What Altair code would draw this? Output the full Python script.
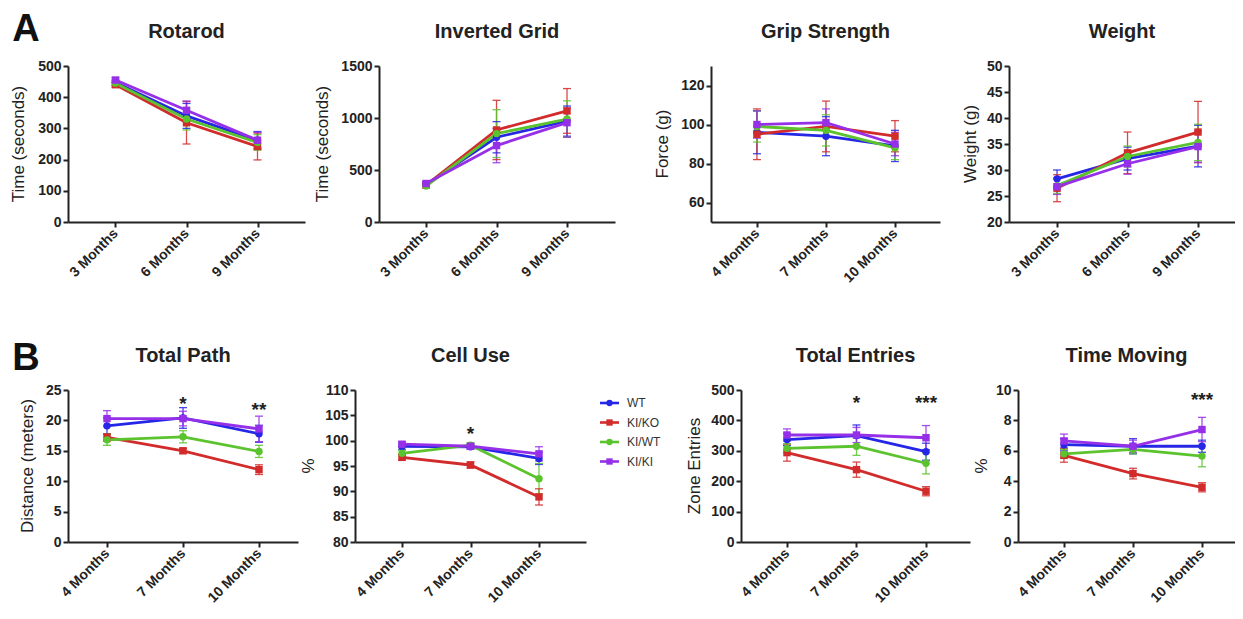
import altair as alt
import pandas as pd

FONT = "Liberation Sans"
INK = "#222222"

GROUPS = ["WT", "KI/KO", "KI/WT", "KI/KI"]
COLORS = ["#2626e6", "#d22b2b", "#5bc32d", "#9630e8"]
SHAPES = ["circle", "square", "circle", "square"]

MONTHS_369 = ["3 Months", "6 Months", "9 Months"]
MONTHS_4710 = ["4 Months", "7 Months", "10 Months"]

# ---- Panel A ----
ROTAROD_MEAN = {"WT": [447, 340, 262], "KI/KO": [440, 318, 242],
                "KI/WT": [445, 330, 255], "KI/KI": [455, 358, 262]}
ROTAROD_ERR = {"WT": [8, 40, 28], "KI/KO": [8, 68, 43],
               "KI/WT": [8, 35, 25], "KI/KI": [8, 30, 25]}

GRID_MEAN = {"WT": [360, 815, 970], "KI/KO": [355, 885, 1068],
             "KI/WT": [345, 850, 990], "KI/KI": [370, 735, 955]}
GRID_ERR = {"WT": [15, 150, 145], "KI/KO": [15, 285, 215],
            "KI/WT": [15, 230, 175], "KI/KI": [15, 165, 140]}

GRIP_MEAN = {"WT": [96, 94, 89], "KI/KO": [95, 99, 94],
             "KI/WT": [99, 97, 88], "KI/KI": [100, 101, 90]}
GRIP_ERR = {"WT": [11, 10, 8], "KI/KO": [13, 13, 8],
            "KI/WT": [8, 8, 6], "KI/KI": [7, 7, 6]}

WEIGHT_MEAN = {"WT": [28.3, 32.2, 34.6], "KI/KO": [26.5, 33.3, 37.3],
               "KI/WT": [27.0, 32.6, 35.3], "KI/KI": [26.8, 31.2, 34.5]}
WEIGHT_ERR = {"WT": [1.7, 2.2, 4.0], "KI/KO": [2.6, 4.0, 5.9],
              "KI/WT": [1.5, 2.0, 3.5], "KI/KI": [1.5, 2.0, 3.0]}

# ---- Panel B ----
PATH_MEAN = {"WT": [19.1, 20.4, 17.8], "KI/KO": [17.2, 15.0, 11.9],
             "KI/WT": [16.8, 17.3, 14.9], "KI/KI": [20.3, 20.3, 18.6]}
PATH_ERR = {"WT": [1.3, 1.7, 1.4], "KI/KO": [0.6, 0.4, 0.8],
            "KI/WT": [0.9, 1.0, 1.0], "KI/KI": [1.3, 1.2, 2.1]}
PATH_STAR_MONTH = ["7 Months", "10 Months"]
PATH_STAR_TEXT = ["*", "**"]
PATH_STAR_Y = [23.6, 22.5]

CELL_MEAN = {"WT": [98.9, 98.8, 96.5], "KI/KO": [96.7, 95.2, 88.9],
             "KI/WT": [97.5, 99.1, 92.5], "KI/KI": [99.3, 98.9, 97.4]}
CELL_ERR = {"WT": [0.6, 0.5, 1.2], "KI/KO": [0.5, 0.6, 1.6],
            "KI/WT": [0.6, 0.5, 3.0], "KI/KI": [0.5, 0.4, 1.4]}
CELL_STAR_MONTH = ["7 Months"]
CELL_STAR_TEXT = ["*"]
CELL_STAR_Y = [102.4]

ENTRIES_MEAN = {"WT": [337, 350, 297], "KI/KO": [294, 238, 167],
                "KI/WT": [308, 315, 259], "KI/KI": [352, 352, 343]}
ENTRIES_ERR = {"WT": [20, 35, 28], "KI/KO": [28, 25, 15],
               "KI/WT": [15, 30, 35], "KI/KI": [20, 25, 40]}
ENTRIES_STAR_MONTH = ["7 Months", "10 Months"]
ENTRIES_STAR_TEXT = ["*", "***"]
ENTRIES_STAR_Y = [474, 474]

MOVING_MEAN = {"WT": [6.4, 6.3, 6.3], "KI/KO": [5.7, 4.5, 3.6],
               "KI/WT": [5.8, 6.1, 5.65], "KI/KI": [6.65, 6.3, 7.4]}
MOVING_ERR = {"WT": [0.4, 0.5, 0.4], "KI/KO": [0.45, 0.35, 0.3],
              "KI/WT": [0.3, 0.3, 0.7], "KI/KI": [0.45, 0.4, 0.8]}
MOVING_STAR_MONTH = ["10 Months"]
MOVING_STAR_TEXT = ["***"]
MOVING_STAR_Y = [9.7]


def panel(title, ytitle, months, means, errs, ydom, yticks, W, H, left, top,
          bottom, pad, align, ytx, stars=None, letter=None, letter_y=-37,
          legend=False):
    rows = []
    for g in GROUPS:
        for i, (m, v, e) in enumerate(zip(months, means[g], errs[g])):
            rows.append({"month": m, "group": g, "idx": i, "mean": v,
                         "lo": v - e, "hi": v + e})
    df = pd.DataFrame(rows)

    xs = alt.Scale(type="point", domain=months, padding=pad, align=align)
    xax = alt.Axis(title=None, labelAngle=-45, labelAlign="right",
                   labelBaseline="middle", labelFont=FONT, labelFontSize=14,
                   labelFontWeight="bold", labelColor=INK, labelPadding=4,
                   domainColor=INK, domainWidth=2, tickColor=INK, tickWidth=2,
                   tickSize=5, grid=False, labelOverlap=False)
    ys = alt.Scale(domain=ydom, nice=False, zero=False)
    yax = alt.Axis(title=None, values=yticks, format="d", labelFont=FONT,
                   labelFontSize=14, labelFontWeight="bold", labelColor=INK,
                   labelPadding=2, domainColor=INK, domainWidth=2,
                   tickColor=INK, tickWidth=2, tickSize=5, grid=False)
    X = alt.X("month:N", scale=xs, axis=xax, sort=months)
    col = alt.Color("group:N", scale=alt.Scale(domain=GROUPS, range=COLORS),
                    legend=None)
    shp = alt.Shape("group:N", scale=alt.Scale(domain=GROUPS, range=SHAPES),
                    legend=None)

    frame = alt.Chart(pd.DataFrame({"a": [0]})).mark_rect(
        opacity=0, fillOpacity=0, strokeOpacity=0).encode(
        x=alt.value(-left), x2=alt.value(W), y=alt.value(-top),
        y2=alt.value(H + bottom))

    base = alt.Chart(df)
    err = base.mark_rule(strokeWidth=1.3, opacity=0.85).encode(
        x=X, y=alt.Y("lo:Q", scale=ys, axis=yax), y2="hi:Q", color=col)
    cap_lo = base.mark_tick(thickness=1.3, size=8, opacity=0.85).encode(
        x=X, y=alt.Y("lo:Q", scale=ys, axis=yax), color=col)
    cap_hi = base.mark_tick(thickness=1.3, size=8, opacity=0.85).encode(
        x=X, y=alt.Y("hi:Q", scale=ys, axis=yax), color=col)
    lines = base.mark_line(strokeWidth=2.8).encode(
        x=X, y=alt.Y("mean:Q", scale=ys, axis=yax), color=col,
        order=alt.Order("idx:Q"))
    pts = base.mark_point(filled=True, size=55, opacity=1).encode(
        x=X, y=alt.Y("mean:Q", scale=ys, axis=yax), color=col, shape=shp)

    ttl = alt.Chart(pd.DataFrame({"t": [title]})).mark_text(
        font=FONT, fontSize=20, fontWeight="bold", color=INK,
        baseline="middle", align="center").encode(
        x=alt.value(W / 2), y=alt.value(-34), text="t:N")
    ytl = alt.Chart(pd.DataFrame({"t": [ytitle]})).mark_text(
        font=FONT, fontSize=17, color=INK, angle=270, baseline="middle",
        align="center").encode(x=alt.value(ytx), y=alt.value(H / 2), text="t:N")

    layers = [frame, err, cap_lo, cap_hi, lines, pts, ttl, ytl]

    if stars is not None:
        sm, st, sy = stars
        sdf = pd.DataFrame({"month": sm, "txt": st, "yv": sy})
        layers.append(alt.Chart(sdf).mark_text(
            font=FONT, fontSize=19, fontWeight="bold", color=INK,
            baseline="alphabetic", dy=11).encode(
            x=X, y=alt.Y("yv:Q", scale=ys, axis=yax), text="txt:N"))

    if letter is not None:
        layers.append(alt.Chart(pd.DataFrame({"t": [letter]})).mark_text(
            font=FONT, fontSize=38, fontWeight="bold", color="#111111",
            baseline="middle", align="center").encode(
            x=alt.value(-42), y=alt.value(letter_y), text="t:N"))

    if legend:
        for i, g in enumerate(GROUPS):
            yy = 13 + 19.5 * i
            ldf = pd.DataFrame({"t": [g]})
            layers.append(alt.Chart(ldf).mark_rule(
                color=COLORS[i], strokeWidth=2.6).encode(
                x=alt.value(-141), x2=alt.value(-122), y=alt.value(yy)))
            layers.append(alt.Chart(ldf).mark_point(
                color=COLORS[i], filled=True, size=40, opacity=1,
                shape=SHAPES[i]).encode(
                x=alt.value(-131.5), y=alt.value(yy)))
            layers.append(alt.Chart(ldf).mark_text(
                font=FONT, fontSize=12, color="#333333", align="left",
                baseline="middle").encode(
                x=alt.value(-114), y=alt.value(yy), text="t:N"))

    return alt.layer(*layers).properties(width=W, height=H)


HA, HB = 156, 152
TOP_A, BOT_A = 58, 110
TOP_B, BOT_B = 58, 60

rot = panel("Rotarod", "Time (seconds)", MONTHS_369, ROTAROD_MEAN, ROTAROD_ERR,
            [0, 500], [0, 100, 200, 300, 400, 500], 237, HA, 60, TOP_A, BOT_A,
            0.669, 0.5, -49, letter="A", letter_y=-36)
grid = panel("Inverted Grid", "Time (seconds)", MONTHS_369, GRID_MEAN, GRID_ERR,
             [0, 1500], [0, 500, 1000, 1500], 236, HA, 74, TOP_A, BOT_A,
             0.674, 0.495, -56)
grip = panel("Grip Strength", "Force (g)", MONTHS_4710, GRIP_MEAN, GRIP_ERR,
             [50, 130], [60, 80, 100, 120], 229, HA, 96, TOP_A, BOT_A,
             0.659, 0.505, -48)
weight = panel("Weight", "Weight (g)", MONTHS_369, WEIGHT_MEAN, WEIGHT_ERR,
               [20, 50], [20, 25, 30, 35, 40, 45, 50], 226, HA, 69, TOP_A, BOT_A,
               0.603, 0.565, -38)

path = panel("Total Path", "Distance (meters)", MONTHS_4710, PATH_MEAN, PATH_ERR,
             [0, 25], [0, 5, 10, 15, 20, 25], 230, HB, 60, TOP_B, BOT_B,
             0.513, 0.5, -40,
             stars=(PATH_STAR_MONTH, PATH_STAR_TEXT, PATH_STAR_Y),
             letter="B", letter_y=-31)
cell = panel("Cell Use", "%", MONTHS_4710, CELL_MEAN, CELL_ERR,
             [80, 110], [80, 85, 90, 95, 100, 105, 110], 231, HB, 57, TOP_B, BOT_B,
             0.686, 0.5, -46,
             stars=(CELL_STAR_MONTH, CELL_STAR_TEXT, CELL_STAR_Y))
entries = panel("Total Entries", "Zone Entries", MONTHS_4710, ENTRIES_MEAN,
                ENTRIES_ERR, [0, 500], [0, 100, 200, 300, 400, 500], 229, HB,
                155, TOP_B, BOT_B, 0.647, 0.511, -46,
                stars=(ENTRIES_STAR_MONTH, ENTRIES_STAR_TEXT, ENTRIES_STAR_Y),
                legend=True)
moving = panel("Time Moving", "%", MONTHS_4710, MOVING_MEAN, MOVING_ERR,
               [0, 10], [0, 2, 4, 6, 8, 10], 217, HB, 48, TOP_B, BOT_B,
               0.572, 0.582, -36,
               stars=(MOVING_STAR_MONTH, MOVING_STAR_TEXT, MOVING_STAR_Y))

row_a = alt.hconcat(rot, grid, grip, weight, spacing=0)
row_b = alt.hconcat(path, cell, entries, moving, spacing=0)

chart = alt.vconcat(row_a, row_b, spacing=0).configure_view(
    stroke=None).configure_concat(spacing=0).properties(
    padding=0, background="white")

chart.save("out.html", embed_options={"renderer": "svg", "actions": False})
